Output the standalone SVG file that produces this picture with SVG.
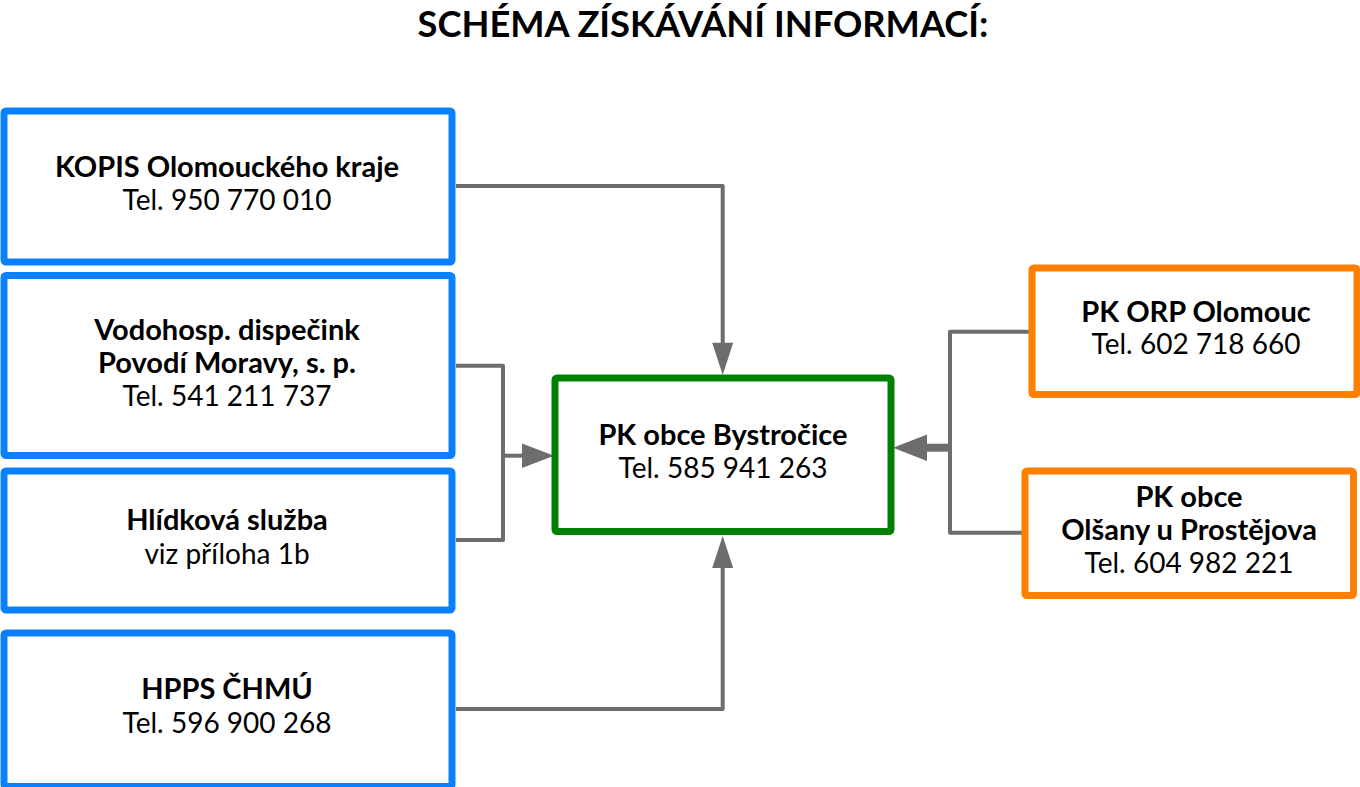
<svg xmlns="http://www.w3.org/2000/svg" width="1360" height="787" viewBox="0 0 1360 787">
<style>
.box{fill:#fff;stroke-width:7;stroke-linejoin:round}
.blue{stroke:#0a80ff}
.green{stroke:#008000}
.orange{stroke:#ff8000}
text{font-family:Lato,"Open Sans","Liberation Sans",sans-serif;font-size:28px;fill:#000;text-anchor:middle}
.b{font-weight:bold;font-size:29px}
.title{font-size:36.3px;font-weight:bold}
.con{fill:none;stroke:#6d6d6d;stroke-width:4;stroke-linejoin:round}
.ah{fill:#6d6d6d}
</style>
<rect width="1360" height="787" fill="#fff"/>
<text class="title" x="703" y="37">SCHÉMA ZÍSKÁVÁNÍ INFORMACÍ:</text>
<g id="connectors">
<path class="con" d="M456 186 H722.7 V344"/>
<polygon class="ah" points="712.2,342.7 733.2,342.7 722.7,375"/>
<path class="con" d="M456 365.7 H503 V540 H456"/>
<path class="con" d="M503 455.7 H523"/>
<polygon class="ah" points="522,443.5 522,468 554,455.7"/>
<path class="con" d="M456 709 H722.7 V567"/>
<polygon class="ah" points="712.2,568 733.2,568 722.7,536"/>
<path class="con" d="M1030 331.7 H950 V532.7 H1023"/>
<path class="con" style="stroke-width:8" d="M950 447.7 H925"/>
<polygon class="ah" points="927,434.5 927,461 893,447.7"/>
</g>
<g id="kopis">
<rect class="box blue" x="4" y="111" width="448" height="151" rx="2"/>
<text class="b" x="227" y="177">KOPIS Olomouckého kraje</text>
<text x="227" y="210">Tel. 950 770 010</text>
</g>
<g id="vodohosp">
<rect class="box blue" x="4" y="275.5" width="448" height="180" rx="2"/>
<text class="b" x="227" y="340">Vodohosp. dispečink</text>
<text class="b" x="227" y="373">Povodí Moravy, s. p.</text>
<text x="227" y="406">Tel. 541 211 737</text>
</g>
<g id="hlidkova">
<rect class="box blue" x="4" y="471" width="448" height="139" rx="2"/>
<text class="b" x="227" y="530">Hlídková služba</text>
<text x="227" y="564">viz příloha 1b</text>
</g>
<g id="hpps">
<rect class="box blue" x="4" y="633" width="448" height="153.5" rx="2"/>
<text class="b" x="227" y="699">HPPS ČHMÚ</text>
<text x="227" y="733">Tel. 596 900 268</text>
</g>
<g id="bystrocice">
<rect class="box green" x="555" y="378" width="336" height="153.5" rx="2"/>
<text class="b" x="723" y="445">PK obce Bystročice</text>
<text x="723" y="478">Tel. 585 941 263</text>
</g>
<g id="orp">
<rect class="box orange" x="1032" y="268" width="325" height="126.5" rx="2"/>
<text class="b" x="1196" y="322">PK ORP Olomouc</text>
<text x="1196" y="354">Tel. 602 718 660</text>
</g>
<g id="olsany">
<rect class="box orange" x="1025" y="471" width="328.5" height="124.5" rx="2"/>
<text class="b" x="1189" y="507">PK obce</text>
<text class="b" x="1189" y="540">Olšany u Prostějova</text>
<text x="1189" y="573">Tel. 604 982 221</text>
</g>
</svg>
